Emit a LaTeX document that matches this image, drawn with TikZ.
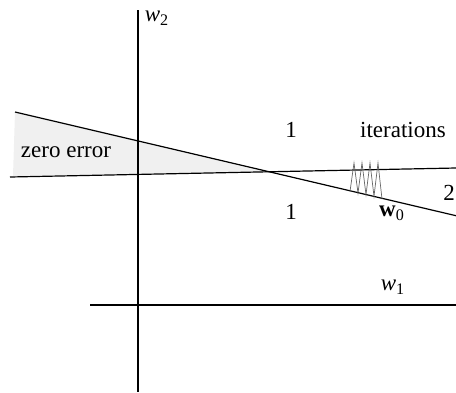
\documentclass[tikz,border=0pt]{standalone}
\usepackage{fontspec}
\setmainfont{Liberation Serif}
\usepackage{tikz}
\usetikzlibrary{positioning}

\begin{document}
\begin{tikzpicture}[
    x=0.5pt, y=-0.5pt,
    font=\fontsize{11.5}{13}\selectfont,
    axis/.style={line width=0.8pt, black},
    wline/.style={line width=0.6pt, black},
    zerofill/.style={fill=black!6, draw=none},
    zigzag/.style={line width=0.35pt, black!60},
    lbl/.style={inner sep=0pt}
]
\useasboundingbox (0,0) rectangle (456,392);

% Points
\coordinate (l1a) at (15,112);
\coordinate (l1b) at (456,215.7);
\coordinate (l2a) at (10,177);
\coordinate (l2b) at (456,168);
\coordinate (cross) at (270,172);

% Zero error region
\fill [zerofill] (l1a) -- (cross) -- (13,176) -- cycle;

% Axes
\draw [axis] (138,10) -- (138,392);
\draw [axis] (90,305) -- (456,305);

% Lines
\draw [wline] (l1a) -- (l1b);
\draw [wline] (l2a) -- (l2b);

% Iterations
\draw [zigzag] (382,199)
  \foreach \i in {0,...,7} {
    -- ({378-4*\i},{mod(\i,2)==0 ? 163 : 197-0.8*\i})
  };

% Labels
\node (w2) [lbl] at (157,18) {\textit{w}\textsubscript{2}};
\node (w1) [lbl] at (393,287) {\textit{w}\textsubscript{1}};
\node (zero) [lbl] at (66,152) {zero error};
\node (one1) [lbl] at (291,130) {1};
\node (one2) [lbl] at (291,212) {1};
\node (iter) [lbl] at (403,130) {iterations};
\node (two) [lbl] at (449,193) {2};
\node (w0) [lbl] at (392,213) {\textbf{w}\textsubscript{0}};

\end{tikzpicture}
\end{document}
